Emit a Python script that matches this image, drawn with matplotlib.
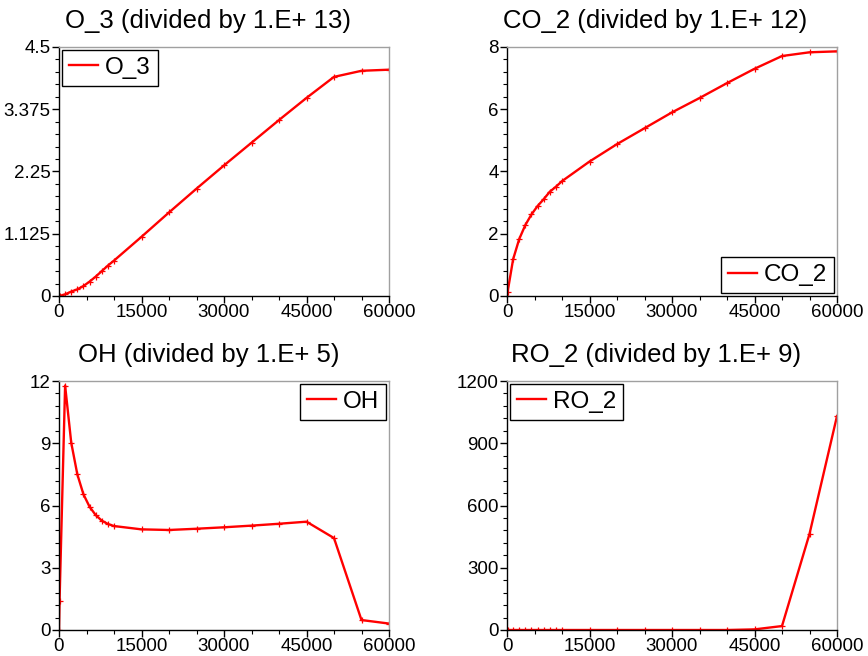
import matplotlib
matplotlib.use("Agg")
import matplotlib.pyplot as plt
from matplotlib.ticker import MultipleLocator

plt.rcParams["font.family"] = ["Liberation Sans", "DejaVu Sans"]

time = [0, 100, 1111, 2222, 3333, 4444, 5556, 6667, 7778, 8889, 10000,
        15000, 20000, 25000, 30000, 35000, 40000, 45000, 50000, 55000, 60000]

o3 = [0, 0.0, 0.03, 0.08, 0.12, 0.18, 0.26, 0.35, 0.45, 0.55, 0.64,
      1.07, 1.51, 1.94, 2.36, 2.77, 3.18, 3.58, 3.96, 4.07, 4.09]
co2 = [0, 0.12, 1.18, 1.83, 2.28, 2.62, 2.89, 3.11, 3.35, 3.51, 3.69,
       4.32, 4.88, 5.39, 5.90, 6.36, 6.84, 7.30, 7.71, 7.83, 7.86]
oh = [0, 1.4, 11.78, 9.03, 7.50, 6.54, 5.94, 5.54, 5.27, 5.11, 5.01,
      4.85, 4.82, 4.88, 4.95, 5.03, 5.12, 5.22, 4.43, 0.48, 0.31]
ro2 = [0, 0, 0, 0, 0, 0, 0, 0, 0, 0, 0,
       0, 0, 0, 0, 0, 0, 3, 19, 463, 1031]

titles = ["O_3 (divided by 1.E+ 13)", "CO_2 (divided by 1.E+ 12)",
          "OH (divided by 1.E+ 5)", "RO_2 (divided by 1.E+ 9)"]
labels = ["O_3", "CO_2", "OH", "RO_2"]
yticks = [[0, 1.125, 2.25, 3.375, 4.5], [0, 2, 4, 6, 8],
          [0, 3, 6, 9, 12], [0, 300, 600, 900, 1200]]
ytick_labels = [["0", "1.125", "2.25", "3.375", "4.5"], ["0", "2", "4", "6", "8"],
                ["0", "3", "6", "9", "12"], ["0", "300", "600", "900", "1200"]]
xticks = [0, 15000, 30000, 45000, 60000]
series = [o3, co2, oh, ro2]

W, H = 868, 656
fig = plt.figure(figsize=(W / 100, H / 100), dpi=100)

# axes boxes in pixels: (left, top, right, bottom)
boxes = [(59, 47, 389, 296), (507, 47, 837, 296),
         (59, 381, 389, 630), (507, 381, 837, 630)]
title_pos = [(208, 21), (655, 21), (209, 355), (656, 355)]
legend_locs = ["upper left", "lower right", "upper right", "upper left"]

for i in range(4):
    l, t, r, b = boxes[i]
    ax = fig.add_axes([l / W, 1 - b / H, (r - l) / W, (b - t) / H])
    ax.plot(time, series[i], color="#ff0000", lw=1.7, marker="+",
            markersize=5, mew=0.9, label=labels[i])
    ax.set_xlim(0, 60000)
    ax.set_ylim(yticks[i][0], yticks[i][-1])
    ax.set_xticks(xticks)
    ax.set_xticklabels([str(v) for v in xticks])
    ax.set_yticks(yticks[i])
    ax.set_yticklabels(ytick_labels[i])
    ax.xaxis.set_minor_locator(MultipleLocator(5000))
    ystep = (yticks[i][1] - yticks[i][0]) / 5
    ax.yaxis.set_minor_locator(MultipleLocator(ystep))
    ax.tick_params(axis="both", which="major", direction="out", length=5,
                   width=1, labelsize=13.5, pad=1, colors="black")
    ax.tick_params(axis="both", which="minor", direction="out", length=3,
                   width=0.8)
    for s in ["left", "bottom"]:
        ax.spines[s].set_color("black")
        ax.spines[s].set_linewidth(1.0)
    for s in ["top", "right"]:
        ax.spines[s].set_color("#a0a0a0")
        ax.spines[s].set_linewidth(1.0)
    leg = ax.legend(loc=legend_locs[i], fontsize=17.5, fancybox=False,
                    framealpha=1, edgecolor="black", handlelength=1.2,
                    handletextpad=0.3, borderpad=0.28, borderaxespad=0.12)
    leg.get_frame().set_linewidth(1.0)
    for h in leg.legend_handles:
        h.set_marker("")
    tx, ty = title_pos[i]
    fig.text(tx / W, 1 - ty / H, titles[i], ha="center", va="center",
             fontsize=18.5)

fig.savefig("out.png", dpi=100)
